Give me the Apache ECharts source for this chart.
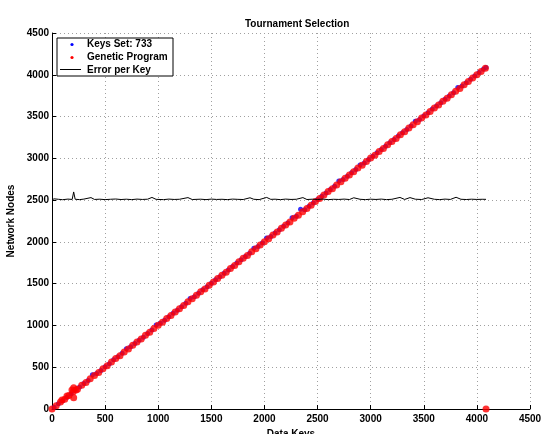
<!DOCTYPE html>
<html>
<head>
<meta charset="utf-8">
<script src="https://cdn.jsdelivr.net/npm/echarts@6/dist/echarts.min.js"></script>
<style>html,body{margin:0;padding:0;background:#fff;}#chart{width:542px;height:434px;}</style>
</head>
<body>
<div id="chart"></div>
<script>
// ---- Data ----
const titleText = 'Tournament Selection';
const xName = 'Data Keys';
const yName = 'Network Nodes';
const seriesNames = ['Keys Set: 733', 'Genetic Program', 'Error per Key'];
const axisTicks = [0, 500, 1000, 1500, 2000, 2500, 3000, 3500, 4000, 4500];

// Keys set (blue)
const keyX = [20,60,100,140,180,220,260,300,340,380,420,460,500,540,580,620,660,700,740,780,820,860,900,940,980,1020,1060,1100,1140,1180,1220,1260,1300,1340,1380,1420,1460,1500,1540,1580,1620,1660,1700,1740,1780,1820,1860,1900,1940,1980,2020,2060,2100,2140,2180,2220,2260,2300,2340,2380,2420,2460,2500,2540,2580,2620,2660,2700,2740,2780,2820,2860,2900,2940,2980,3020,3060,3100,3140,3180,3220,3260,3300,3340,3380,3420,3460,3500,3540,3580,3620,3660,3700,3740,3780,3820,3860,3900,3940,3980,4020,4060,4086];
const keyY = [22,64,98,142,184,226,262,305,342,410,425,462,506,542,588,626,668,722,746,784,824,858,905,944,1005,1026,1062,1104,1146,1182,1224,1266,1322,1344,1384,1426,1462,1506,1548,1584,1626,1664,1704,1746,1786,1826,1864,1925,1944,1986,2048,2064,2106,2146,2186,2226,2290,2306,2392,2386,2426,2466,2506,2546,2584,2626,2666,2730,2746,2786,2826,2866,2920,2944,2986,3026,3066,3106,3146,3186,3226,3266,3306,3346,3386,3445,3466,3506,3546,3590,3626,3666,3706,3746,3786,3848,3866,3906,3946,3986,4026,4066,4088];

// Genetic program (red)
const gpX = [0,40,80,120,160,200,240,280,320,360,400,440,480,520,560,600,640,680,720,760,800,840,880,920,960,1000,1040,1080,1120,1160,1200,1240,1280,1320,1360,1400,1440,1480,1520,1560,1600,1640,1680,1720,1760,1800,1840,1880,1920,1960,2000,2040,2080,2120,2160,2200,2240,2280,2320,2360,2400,2440,2480,2520,2560,2600,2640,2680,2720,2760,2800,2840,2880,2920,2960,3000,3040,3080,3120,3160,3200,3240,3280,3320,3360,3400,3440,3480,3520,3560,3600,3640,3680,3720,3760,3800,3840,3880,3920,3960,4000,4040,4080,94,141,188,204,226,204,4086];
const gpY = [0,38,83,118,163,205,236,284,318,362,401,437,483,518,562,603,637,682,719,762,801,838,883,918,962,1003,1037,1082,1119,1162,1201,1238,1283,1318,1362,1403,1437,1482,1519,1562,1601,1638,1683,1718,1762,1803,1837,1882,1919,1962,2001,2038,2083,2118,2162,2203,2237,2282,2319,2362,2401,2438,2483,2518,2562,2603,2637,2682,2719,2762,2801,2838,2883,2918,2962,3003,3037,3082,3119,3162,3201,3238,3283,3318,3362,3403,3437,3482,3519,3562,3601,3638,3683,3718,3762,3803,3837,3882,3919,3962,4001,4038,4078,108,156,227,255,227,135,0];

// Error per key (black line)
const errX = [0,20,35,60,100,150,190,204,218,260,300,367,400,450,500,550,600,650,700,750,800,850,900,941,980,1050,1100,1150,1200,1280,1320,1400,1450,1500,1550,1600,1650,1700,1750,1800,1864,1900,1950,2021,2060,2100,2150,2200,2250,2300,2362,2400,2450,2500,2550,2600,2650,2700,2750,2800,2841,2900,2950,3000,3050,3100,3150,3200,3276,3320,3370,3420,3480,3540,3600,3650,3700,3750,3804,3850,3900,3950,4000,4050,4086];
const errY = [2505,2515,2535,2510,2505,2512,2508,2598,2510,2506,2512,2530,2508,2511,2506,2510,2513,2507,2511,2506,2512,2508,2511,2532,2509,2506,2512,2508,2510,2530,2507,2511,2506,2512,2508,2510,2506,2512,2509,2507,2528,2510,2506,2532,2509,2511,2506,2512,2508,2510,2530,2507,2511,2508,2512,2506,2510,2508,2512,2507,2528,2510,2506,2511,2508,2512,2506,2510,2532,2508,2530,2511,2507,2528,2510,2506,2512,2508,2534,2510,2507,2511,2508,2510,2509];

// ---- Build ----
const zip = (a, b) => a.map((v, i) => [v, b[i]]);
const font = 'Liberation Sans, Arial, Helvetica, sans-serif';
const chart = echarts.init(document.getElementById('chart'), null, {renderer: 'canvas'});

const axisCommon = {
  type: 'value', min: axisTicks[0], max: axisTicks[axisTicks.length - 1], interval: axisTicks[1] - axisTicks[0],
  axisLine: {show: true, lineStyle: {color: '#000', width: 1}},
  axisTick: {show: true, inside: true, length: 4, lineStyle: {color: '#000'}},
  axisLabel: {color: '#000', fontFamily: font, fontSize: 10, fontWeight: 'bold', formatter: v => String(v)},
  splitLine: {show: true, lineStyle: {color: '#a0a0a0', width: 1, type: [1, 3]}},
  nameLocation: 'middle',
  nameTextStyle: {color: '#000', fontFamily: font, fontSize: 10, fontWeight: 'bold'}
};

chart.setOption({
  animation: false,
  backgroundColor: '#fff',
  title: {
    text: titleText, left: 240, top: 14,
    textStyle: {color: '#000', fontFamily: font, fontSize: 10, fontWeight: 'bold'}
  },
  grid: {left: 52, right: 12, top: 33, bottom: 25, containLabel: false, outerBoundsMode: 'none'},
  xAxis: Object.assign({}, axisCommon, {
    name: xName, nameGap: 14,
    axisLabel: Object.assign({}, axisCommon.axisLabel, {margin: 5})
  }),
  yAxis: Object.assign({}, axisCommon, {
    name: yName, nameGap: 33,
    axisLabel: Object.assign({}, axisCommon.axisLabel, {margin: 3})
  }),
  series: [
    {name: seriesNames[0], type: 'scatter', data: zip(keyX, keyY), symbol: 'circle', symbolSize: 5,
     itemStyle: {color: '#0000ff'}, z: 2},
    {name: seriesNames[1], type: 'scatter', data: zip(gpX, gpY), symbol: 'circle', symbolSize: 7,
     itemStyle: {color: '#ff0000'}, z: 3},
    {name: seriesNames[2], type: 'line', data: zip(errX, errY), showSymbol: false, symbol: 'none',
     lineStyle: {color: '#000', width: 1}, z: 4}
  ],
  graphic: [
    {type: 'rect', shape: {x: 57, y: 38, width: 116, height: 38}, style: {fill: '#fff', stroke: '#000', lineWidth: 1}, z: 100},
    {type: 'circle', shape: {cx: 72, cy: 44.5, r: 1.6}, style: {fill: '#0000ff'}, z: 101},
    {type: 'circle', shape: {cx: 72, cy: 57.5, r: 1.6}, style: {fill: '#ff0000'}, z: 101},
    {type: 'line', shape: {x1: 60, y1: 69.5, x2: 81, y2: 69.5}, style: {stroke: '#000', lineWidth: 1}, z: 101},
    {type: 'text', x: 87, y: 44.5, style: {text: seriesNames[0], fill: '#000', font: 'bold 10px ' + font, verticalAlign: 'middle'}, z: 101},
    {type: 'text', x: 87, y: 57.5, style: {text: seriesNames[1], fill: '#000', font: 'bold 10px ' + font, verticalAlign: 'middle'}, z: 101},
    {type: 'text', x: 87, y: 70, style: {text: seriesNames[2], fill: '#000', font: 'bold 10px ' + font, verticalAlign: 'middle'}, z: 101}
  ]
});
</script>
</body>
</html>
